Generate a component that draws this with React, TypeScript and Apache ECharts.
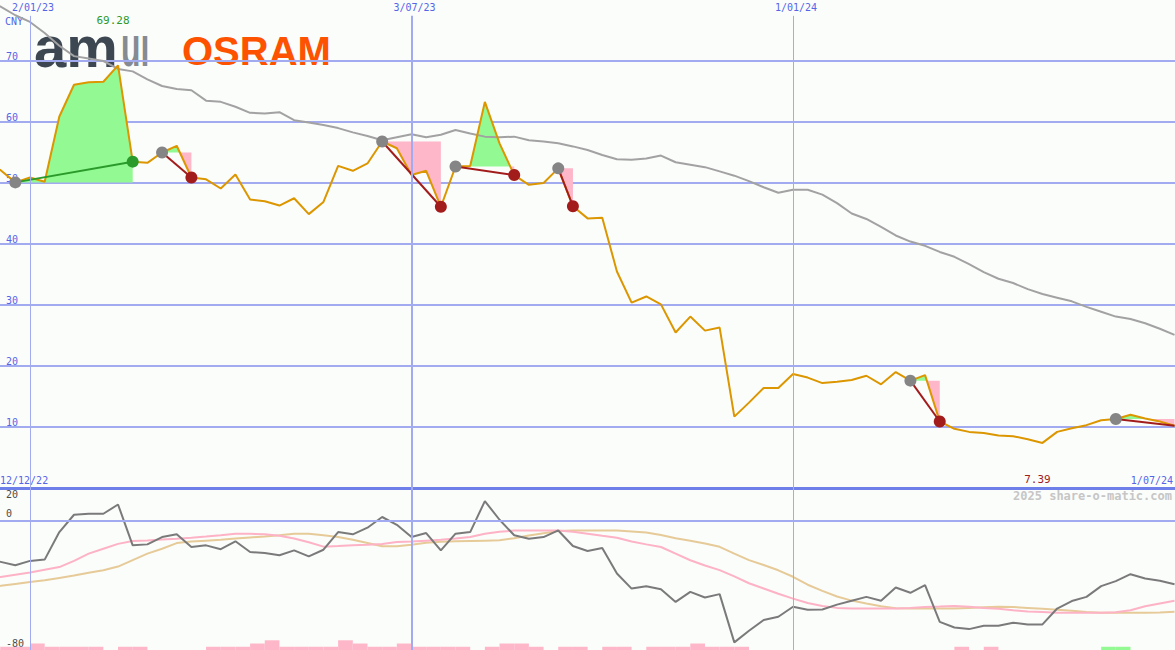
import React, { useEffect, useRef } from "react";
import * as echarts from "echarts";

// ---------- data (weekly, Mondays, first week = 12/12/22) ----------
const DAY = 86400000;
const WEEK = 7 * DAY;
const FIRST_WEEK = Date.UTC(2022, 11, 12);
const AXIS_MIN = Date.UTC(2023, 0, 2) - 14.31 * DAY;
const AXIS_MAX = Date.UTC(2023, 0, 2) + 546.23 * DAY;

const price = [
  53.5, 52.1, 50.1, 50.9, 50.2, 60.9, 66.1, 66.5, 66.6, 69.28,
  53.5, 53.3, 55.0, 56.1, 50.9, 50.6, 49.1, 51.4, 47.3, 47.0,
  46.3, 47.5, 44.9, 46.9, 52.8, 52.0, 53.2, 56.8, 55.7, 51.3,
  52.0, 46.1, 52.7, 52.8, 63.3, 56.5, 51.3, 49.7, 50.0, 52.4,
  46.2, 44.2, 44.3, 35.5, 30.4, 31.4, 30.1, 25.5, 28.1, 25.8,
  26.3, 11.7, 14.0, 16.4, 16.4, 18.7, 18.1, 17.2, 17.4, 17.7,
  18.4, 17.0, 19.0, 17.6, 18.5, 10.9, 9.7, 9.2, 9.0, 8.6,
  8.5, 8.0, 7.39, 9.2, 9.8, 10.3, 11.1, 11.3, 12.0, 11.4,
  10.9, 10.2,
];

const movingAvg = [
  80.2, 78.9, 77.5, 76.4, 74.6, 72.5, 70.8, 70.4, 70.0, 68.7,
  68.3, 67.0, 65.9, 65.4, 65.2, 63.5, 63.3, 62.5, 61.5, 61.4,
  61.6, 60.3, 59.9, 59.5, 59.0, 58.3, 57.7, 57.0, 57.5, 58.0,
  57.5, 57.9, 58.7, 58.1, 57.6, 57.5, 57.6, 57.0, 56.8, 56.5,
  56.0, 55.4, 54.6, 53.9, 53.8, 54.0, 54.5, 53.4, 53.0, 52.6,
  51.9, 51.2, 50.3, 49.3, 48.4, 48.9, 48.9, 48.1, 46.7, 45.0,
  44.1, 42.8, 41.4, 40.4, 39.7, 38.7, 37.9, 36.7, 35.4, 34.3,
  33.6, 32.6, 31.8, 31.2, 30.6, 29.7, 28.9, 28.1, 27.7, 27.0,
  26.1, 25.1,
];

const momentum = [
  -24.0, -25.6, -27.7, -25.0, -24.2, -7.2, 3.5, 4.1, 4.1, 9.8,
  -15.4, -14.8, -10.3, -8.6, -16.4, -15.4, -17.8, -12.9, -19.5, -20.1,
  -21.5, -18.5, -22.2, -18.1, -7.2, -8.6, -4.5, 2.1, -2.7, -10.3,
  -7.8, -18.5, -8.2, -7.2, 11.9, 0.4, -9.2, -11.3, -10.3, -6.2,
  -15.8, -18.9, -17.0, -32.8, -42.1, -40.6, -42.5, -50.3, -44.1, -47.6,
  -45.5, -75.3, -68.1, -61.5, -59.5, -53.3, -55.2, -55.0, -52.0, -49.6,
  -47.2, -49.6, -41.4, -44.7, -40.0, -62.6, -66.1, -67.1, -65.0, -65.0,
  -63.2, -64.2, -64.2, -54.4, -49.8, -47.2, -40.6, -37.5, -33.2, -35.9,
  -37.3, -39.4,
];

const momentumFast = [
  -35.5, -34.9, -33.5, -32.2, -30.5, -28.8, -25.0, -20.5, -17.5, -14.5,
  -12.7, -12.4, -11.8, -11.3, -10.7, -10.0, -9.2, -8.2, -8.3, -8.6,
  -9.5, -11.2, -13.5, -16.2, -15.8, -15.3, -15.0, -14.6, -13.3, -13.0,
  -12.5, -12.0, -11.2, -10.2, -8.2, -7.0, -6.3, -6.2, -6.2, -6.2,
  -7.0, -8.2, -9.5, -10.7, -13.0, -14.8, -16.4, -20.5, -24.6, -27.8,
  -30.7, -34.6, -38.8, -42.0, -45.3, -48.3, -51.0, -52.9, -54.0, -54.4,
  -54.4, -54.4, -54.4, -54.0, -53.4, -53.2, -52.9, -53.3, -54.0, -54.6,
  -55.5, -56.2, -56.6, -57.0, -57.0, -57.0, -57.0, -56.7, -55.5, -53.0,
  -51.3, -49.6,
];

const momentumSlow = [
  -41.0, -40.4, -39.2, -38.0, -37.0, -35.5, -34.0, -32.3, -30.8, -28.5,
  -24.5, -20.5, -17.5, -14.0, -13.0, -12.5, -12.0, -11.2, -10.5, -9.9,
  -9.2, -8.3, -8.3, -9.2, -10.3, -12.0, -14.0, -16.0, -16.0, -15.0,
  -13.8, -13.2, -12.9, -12.7, -12.5, -12.3, -11.0, -9.3, -7.9, -6.6,
  -6.2, -6.2, -6.2, -6.2, -6.8, -7.5, -9.0, -11.0, -12.5, -14.3,
  -16.3, -20.5, -24.5, -27.5, -30.8, -34.8, -39.7, -43.5, -47.0, -49.5,
  -51.3, -53.0, -54.2, -54.4, -54.4, -54.4, -54.4, -54.0, -53.6, -53.3,
  -53.5, -54.0, -54.6, -55.2, -55.8, -56.5, -57.0, -57.0, -57.0, -57.0,
  -56.8, -56.4,
];

// weekly signal bars: negative = pink, positive = green, size = bar height
const signals = [
  -2, -2, -2, -4, -2, -2, -2, -2, 0, -2,
  -2, 0, 0, 0, 0, -2, -2, -2, -4, -6,
  -2, -2, -2, -2, -6, -4, -2, -2, -4, -2,
  -2, -2, -2, 0, -2, -4, -4, -2, 0, -2,
  -2, 0, -2, -2, 0, -2, -2, -2, -4, -2,
  -2, -2, 0, 0, 0, 0, 0, 0, 0, 0,
  0, 0, 0, 0, 0, 0, -2, 0, -2, 0,
  0, 0, 0, 0, 0, 0, 2, 2, 0, 0,
  0, 0,
];

// swings (week indices into the arrays above)
const swingStart = [2, 12, 27, 32, 39, 63, 77];
const swingEnd = [10, 14, 31, 36, 40, 65, 81];
const swingUp = [true, false, false, false, false, false, false];
const swingClosed = [true, true, true, true, true, true, false];

const gridDates = [Date.UTC(2023, 0, 2), Date.UTC(2023, 6, 3), Date.UTC(2024, 0, 1)];
const gridDateLabels = ["2/01/23", "3/07/23", "1/01/24"];
const gridDateWidths = [1, 2, 1];
const rangeLabels = ["12/12/22", "1/07/24"];
const currency = "CNY";
const watermark = "2025 share-o-matic.com";

// ---------- styles ----------
const MONO = "'DejaVu Sans Mono', monospace";
const BLUE = "#5565e8";
const GRID = "#a3abf0";
const ORANGE = "#dc9600";
const DARKRED = "#a31c1c";
const GREEN = "#2a9a2a";
const GREEN_FILL = "#93f993";
const PINK_FILL = "#feb6c9";

const dates = price.map((_, i) => FIRST_WEEK + i * WEEK);
const pts = (arr: number[]) => arr.map((v, i) => [dates[i], v]);

function buildOption(): any {
  const fillSeries = {
    type: "custom",
    xAxisIndex: 0,
    yAxisIndex: 0,
    z: 1,
    silent: true,
    data: swingStart.map((s, j) => [dates[s], price[s], j]),
    encode: { x: 0, y: 1 },
    renderItem: (params: any, api: any) => {
      const j = api.value(2);
      const s = swingStart[j];
      const e = swingEnd[j];
      const by = api.coord([dates[s], price[s]])[1];
      const raw: number[][] = [];
      for (let i = s; i <= e; i++) raw.push(api.coord([dates[i], price[i]]));
      const p: number[][] = [raw[0]];
      for (let i = 1; i < raw.length; i++) {
        const [x0, y0] = raw[i - 1];
        const [x1, y1] = raw[i];
        if ((y0 - by) * (y1 - by) < 0) {
          const t = (by - y0) / (y1 - y0);
          p.push([x0 + t * (x1 - x0), by]);
        }
        p.push(raw[i]);
      }
      const first = p[0][0];
      const last = p[p.length - 1][0];
      const up = [[first, by], ...p.map((q) => [q[0], Math.min(q[1], by)]), [last, by]];
      const down = [[first, by], ...p.map((q) => [q[0], Math.max(q[1], by)]), [last, by]];
      return {
        type: "group",
        children: [
          { type: "polygon", shape: { points: up }, style: { fill: GREEN_FILL } },
          { type: "polygon", shape: { points: down }, style: { fill: PINK_FILL } },
        ],
      };
    },
  };

  const connectorSeries = {
    type: "custom",
    xAxisIndex: 0,
    yAxisIndex: 0,
    z: 4,
    silent: true,
    data: swingStart.map((s, j) => [dates[s], price[s], j]),
    encode: { x: 0, y: 1 },
    renderItem: (params: any, api: any) => {
      const j = api.value(2);
      const a = api.coord([dates[swingStart[j]], price[swingStart[j]]]);
      const b = api.coord([dates[swingEnd[j]], price[swingEnd[j]]]);
      return {
        type: "line",
        shape: { x1: a[0], y1: a[1], x2: b[0], y2: b[1] },
        style: { stroke: swingUp[j] ? GREEN : DARKRED, lineWidth: 2 },
      };
    },
  };

  const barSeries = {
    type: "custom",
    xAxisIndex: 1,
    yAxisIndex: 1,
    z: 1,
    silent: true,
    data: signals
      .map((v, i) => [dates[i], v, i])
      .filter((d) => d[1] !== 0),
    encode: { x: 0, y: 1 },
    renderItem: (params: any, api: any) => {
      const d = api.value(0);
      const v = api.value(1);
      const p0 = api.coord([d, -80]);
      const p1 = api.coord([d + WEEK, -80 + Math.abs(v)]);
      return {
        type: "rect",
        shape: { x: p0[0], y: p1[1], width: p1[0] - p0[0], height: p0[1] - p1[1] },
        style: { fill: v > 0 ? GREEN_FILL : PINK_FILL },
      };
    },
  };

  const scatter = (idx: number[], color: string, z: number) => ({
    type: "scatter",
    xAxisIndex: 0,
    yAxisIndex: 0,
    z,
    silent: true,
    symbolSize: 12,
    itemStyle: { color, opacity: 1 },
    data: idx.map((i) => [dates[i], price[i]]),
  });

  const redEnds = swingEnd.filter((_, j) => swingClosed[j] && !swingUp[j]);
  const greenEnds = swingEnd.filter((_, j) => swingClosed[j] && swingUp[j]);

  const timeAxis = (gridIndex: number, showLine: boolean) => ({
    type: "time",
    gridIndex,
    min: AXIS_MIN,
    max: AXIS_MAX,
    axisLine: { show: showLine, onZero: false, lineStyle: { color: "#6f7fe9", width: 3 } },
    axisTick: { show: false },
    axisLabel: { show: false },
    splitLine: { show: false },
  });

  const txt = (text: string, x: number, y: number, align: string, color: string, font: string, extra: any = {}, lineHeight?: number) => ({
    type: "text",
    x,
    y,
    silent: true,
    ...extra,
    style: {
      text,
      fill: color,
      font,
      align,
      textAlign: align,
      verticalAlign: "middle",
      textVerticalAlign: "middle",
      ...(lineHeight ? { lineHeight } : {}),
    },
  });

  return {
    animation: false,
    backgroundColor: "#fbfdfb",
    textStyle: { fontFamily: MONO },
    grid: [
      { left: 0, right: 0, top: 0, height: 488, containLabel: false, outerBoundsMode: "none" },
      { left: 0, right: 0, top: 488, height: 162, containLabel: false, outerBoundsMode: "none" },
    ],
    xAxis: [timeAxis(0, true), timeAxis(1, false)],
    yAxis: [
      {
        type: "value",
        gridIndex: 0,
        min: 0,
        max: 80,
        interval: 10,
        axisLine: { show: false },
        axisTick: { show: false },
        axisLabel: {
          inside: true,
          margin: 6,
          verticalAlign: "bottom",
          color: BLUE,
          fontSize: 10,
          fontFamily: MONO,
          showMinLabel: true,
          showMaxLabel: true,
          formatter: (v: number) => (v === 0 || v === 80 ? "" : String(v)),
        },
        splitLine: { show: true, showMinLine: false, showMaxLine: false, lineStyle: { color: GRID, width: 2 } },
      },
      {
        type: "value",
        gridIndex: 1,
        min: -80,
        max: 20,
        interval: 20,
        axisLine: { show: false },
        axisTick: { show: false },
        splitLine: { show: false },
        axisLabel: {
          inside: true,
          margin: 6,
          verticalAlign: "middle",
          lineHeight: 13,
          color: "#4a4a4a",
          fontSize: 10,
          fontFamily: MONO,
          showMinLabel: true,
          showMaxLabel: true,
          formatter: (v: number) => (v === 20 ? "\n20" : v === 0 || v === -80 ? v + "\n" : ""),
        },
      },
    ],
    graphic: [
      txt(currency, 5, 21, "left", BLUE, `10px ${MONO}`),
      txt(rangeLabels[0], 0, 480, "left", BLUE, `10px ${MONO}`),
      txt(rangeLabels[1], 1173, 480, "right", BLUE, `10px ${MONO}`),
      txt(watermark, 1172, 496, "right", "#c6c6c6", `bold 12px ${MONO}`),
      txt("am", 34, 46, "left", "#3c4751", `bold 58px 'Liberation Sans', sans-serif`, {}, 30),
      txt("uı", 121, 46, "left", "#858b92", `bold 58px 'Liberation Sans', sans-serif`, { scaleX: 0.55 }, 30),
      txt("OSRAM", 182, 51, "left", "#fd5200", `bold 40px 'Liberation Sans', sans-serif`, {}, 30),
    ],
    series: [
      fillSeries,
      {
        type: "line",
        xAxisIndex: 0,
        yAxisIndex: 0,
        z: 2,
        silent: true,
        showSymbol: false,
        data: pts(movingAvg),
        lineStyle: { color: "#a2a2a2", width: 2 },
      },
      {
        type: "line",
        xAxisIndex: 0,
        yAxisIndex: 0,
        z: 3,
        silent: true,
        showSymbol: false,
        data: pts(price),
        lineStyle: { color: ORANGE, width: 2 },
        markPoint: {
          silent: true,
          symbol: "circle",
          symbolSize: 0,
          label: {
            show: true,
            position: "inside",
            fontFamily: MONO,
            fontSize: 11,
            formatter: (p: any) => Number(p.value).toFixed(2),
          },
          data: [
            { type: "max", label: { color: GREEN, offset: [-5, -45] } },
            { type: "min", label: { color: DARKRED, offset: [-5, 37] } },
          ],
        },
        markLine: {
          silent: true,
          symbol: "none",
          label: { show: true, position: "start", color: BLUE, fontSize: 10, fontFamily: MONO, formatter: "{b}", distance: 3, offset: [3, 0] },
          data: gridDates.map((d, j) => [
            { name: gridDateLabels[j], xAxis: d, yAxis: 77.4, lineStyle: { color: GRID, width: gridDateWidths[j], type: "solid" } },
            { xAxis: d, yAxis: 0 },
          ]),
        },
      },
      connectorSeries,
      scatter(swingStart, "#858585", 5),
      scatter(redEnds, DARKRED, 6),
      scatter(greenEnds, GREEN, 6),
      barSeries,
      {
        type: "line",
        xAxisIndex: 1,
        yAxisIndex: 1,
        z: 2,
        silent: true,
        showSymbol: false,
        data: pts(momentumSlow),
        lineStyle: { color: "#e6ca98", width: 2 },
      },
      {
        type: "line",
        xAxisIndex: 1,
        yAxisIndex: 1,
        z: 2,
        silent: true,
        showSymbol: false,
        data: pts(momentumFast),
        lineStyle: { color: "#fdb2c6", width: 2 },
      },
      {
        type: "line",
        xAxisIndex: 1,
        yAxisIndex: 1,
        z: 3,
        silent: true,
        showSymbol: false,
        data: pts(momentum),
        lineStyle: { color: "#7a7a7a", width: 2 },
        markLine: {
          silent: true,
          symbol: "none",
          label: { show: false },
          data: [
            { yAxis: 0, lineStyle: { color: GRID, width: 2, type: "solid" } },
            ...gridDates.map((d, j) => ({ xAxis: d, lineStyle: { color: GRID, width: gridDateWidths[j], type: "solid" } })),
          ],
        },
      },
    ],
  };
}

export default function App() {
  const ref = useRef<HTMLDivElement>(null);
  useEffect(() => {
    const chart = echarts.init(ref.current!, null, { renderer: "svg" });
    chart.setOption(buildOption());
    return () => chart.dispose();
  }, []);
  return (
    <div
      ref={ref}
      style={{ position: "absolute", left: 0, top: 0, width: 1175, height: 650 }}
    />
  );
}
